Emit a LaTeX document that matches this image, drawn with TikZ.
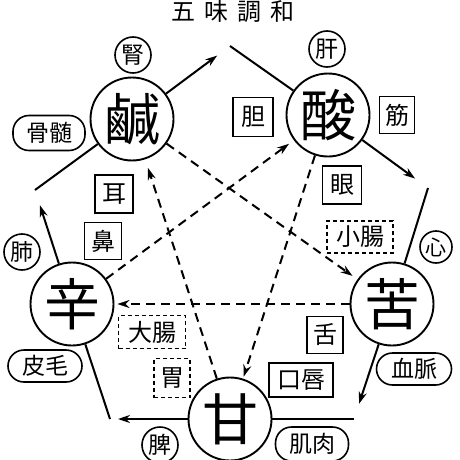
\documentclass[tikz,border=0pt]{standalone}
\usepackage{fontspec}
\newfontfamily\cjk{Noto Sans CJK JP}
\usetikzlibrary{arrows.meta}
\begin{document}
\begin{tikzpicture}[x=1pt,y=-1pt,line width=2pt,
  big/.style={circle,draw,line width=1.9pt,minimum size=83pt,inner sep=0pt,font=\cjk\fontsize{56}{56}\selectfont},
  organ/.style={circle,draw,line width=1.6pt,minimum size=36pt,inner sep=0pt,font=\cjk\fontsize{23}{23}\selectfont},
  tissue/.style={rectangle,draw,line width=1.6pt,rounded corners=16pt,minimum width=73pt,minimum height=33pt,inner sep=0pt,font=\cjk\fontsize{23}{23}\selectfont},
  sbox/.style={rectangle,draw,line width=1.6pt,minimum width=38pt,minimum height=38pt,inner sep=0pt,font=\cjk\fontsize{24}{24}\selectfont},
  dbox/.style={sbox,line width=1.4pt,dash pattern=on 4pt off 3pt},
  flow/.style={-{Stealth[length=12pt,width=8pt]}},
  ctrl/.style={flow,dash pattern=on 9pt off 6pt}
]
\useasboundingbox (0,0) rectangle (460,460);

\node[font=\cjk\fontsize{24}{24}\selectfont] (title) at (233,12) {五\hspace{9pt}味\hspace{9pt}調\hspace{9pt}和};

\node[big] (kan) at (132,119) {鹹};
\node[big] (san) at (328,115) {酸};
\node[big] (shin) at (72,304) {辛};
\node[big] (ku) at (392,304) {苦};
\node[big] (amai) at (230,419) {甘};

\node[organ] (jin) at (133,55) {腎};
\node[organ] (kanzo) at (327,49) {肝};
\node[organ,minimum size=32pt,font=\cjk\fontsize{21}{21}\selectfont] (shinzo) at (436,247) {心};
\node[organ] (hai) at (22,252) {肺};
\node[organ] (hizo) at (160,445) {脾};

\node[tissue,minimum width=72pt,minimum height=35pt] (kotsuzui) at (49,133) {骨髄};
\node[tissue,minimum width=74pt,minimum height=32pt] (hiko) at (45,366) {皮毛};
\node[tissue,minimum width=75pt,minimum height=32pt] (ketsumyaku) at (414,369) {血脈};
\node[tissue,minimum width=73pt,minimum height=34pt] (kiniku) at (312,444) {肌肉};

\node[sbox,minimum width=40pt,minimum height=39pt] (tan) at (253,117) {胆};
\node[sbox,minimum width=35pt,minimum height=37pt] (suji) at (397,115) {筋};
\node[sbox,minimum width=39pt,minimum height=38pt] (me) at (342,185) {眼};
\node[sbox] (mimi) at (114,194) {耳};
\node[sbox,minimum width=37pt,minimum height=37pt] (hana) at (103,241) {鼻};
\node[sbox,minimum width=36pt,minimum height=37pt] (shita) at (325,335) {舌};
\node[sbox,minimum width=64pt,minimum height=34pt] (kuchi) at (301,380) {口唇};

\node[dbox,minimum width=66pt,minimum height=32pt] (shocho) at (360,237) {小腸};
\node[dbox,minimum width=67pt,minimum height=33pt] (daicho) at (152,332) {大腸};
\node[dbox,minimum width=36pt,minimum height=39pt] (i) at (172,378) {胃};

\coordinate (vT) at (230,46);
\coordinate (vR) at (428,188);
\coordinate (vBR) at (354,419);
\coordinate (vBL) at (110,419);
\coordinate (vL) at (35,190);

\draw[flow,shorten >=16pt] (kan) -- (vT);
\draw (vT) -- (san);
\draw[flow,shorten >=16pt] (san) -- (vR);
\draw (vR) -- (ku);
\draw[flow,shorten >=16pt] (ku) -- (vBR);
\draw (vBR) -- (amai);
\draw[flow,shorten >=8pt] (amai) -- (vBL);
\draw (vBL) -- (shin);
\draw[flow,shorten >=16pt] (shin) -- (vL);
\draw (vL) -- (kan);

\draw[ctrl,shorten >=6pt] (kan) -- (ku);
\draw[ctrl,shorten >=3pt] (ku) -- (shin);
\draw[ctrl,shorten >=6pt] (shin) -- (san);
\draw[ctrl,shorten >=2pt] (san) -- (amai);
\draw[ctrl,shorten >=9pt] (amai) -- (kan);
\end{tikzpicture}
\end{document}
